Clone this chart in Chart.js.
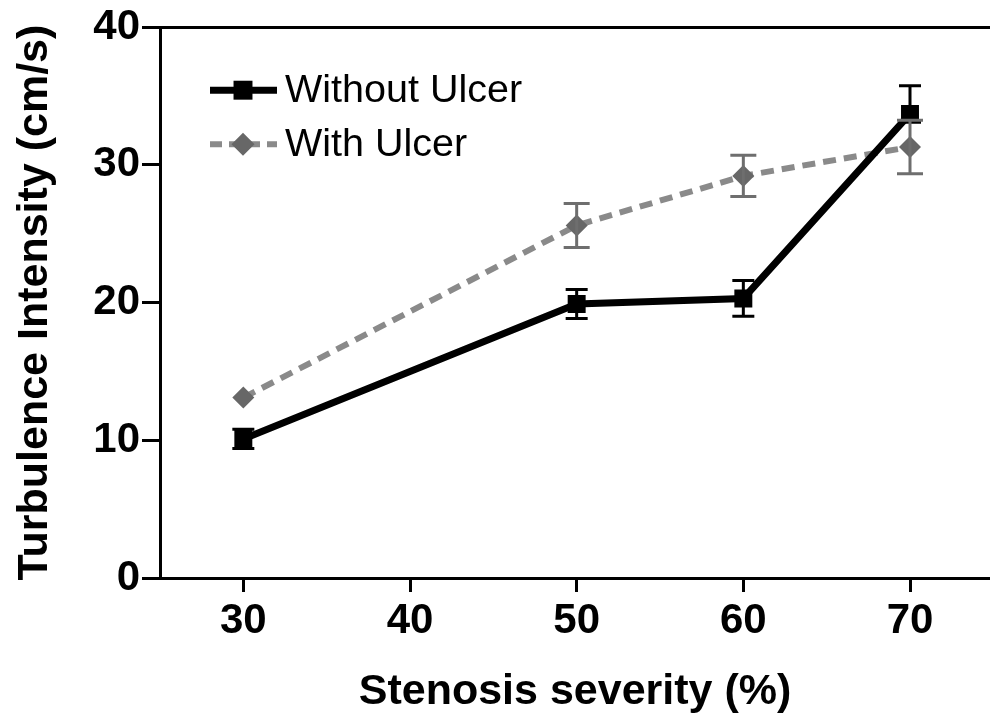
<!DOCTYPE html>
<html>
<head>
<meta charset="utf-8">
<title>Turbulence intensity vs stenosis severity</title>
<script src="https://cdn.jsdelivr.net/npm/chart.js@4.4.1/dist/chart.umd.min.js"></script>
<style>
    html, body { margin: 0; padding: 0; background: #fff; overflow: hidden; }
    #wrap { width: 990px; height: 723px; }
</style>
</head>
<body>
<div id="wrap"><canvas id="turbChart" width="990" height="723"></canvas></div>
<script>
// values
var severity = [30, 50, 60, 70];
var withoutUlcer = [10.1, 19.9, 20.3, 33.7];
var withoutUlcerErrUp = [0.7, 1.05, 1.3, 2.05];
var withoutUlcerErrDown = [0.7, 1.05, 1.3, 0.6];
var withUlcer = [13.1, 25.6, 29.2, 31.3];
var withUlcerErr = [0, 1.6, 1.5, 1.95];
var xTicks = [30, 40, 50, 60, 70];
var yTicks = [0, 10, 20, 30, 40];

var FONT = '"Liberation Sans", Arial, Helvetica, sans-serif';

function toPoints(xs, ys) {
    return xs.map(function (x, i) { return { x: x, y: ys[i] }; });
}

// error bars, drawn with the y scale after the lines and markers
var errorBars = {
    id: 'errorBars',
    afterDatasetsDraw: function (chart) {
        var ctx = chart.ctx;
        var yScale = chart.scales.y;
        chart.data.datasets.forEach(function (ds, i) {
            var meta = chart.getDatasetMeta(i);
            ctx.save();
            ctx.strokeStyle = ds.errorColor;
            ctx.lineWidth = 3;
            ctx.setLineDash([]);
            meta.data.forEach(function (pt, j) {
                var up = ds.errUp[j], down = ds.errDown[j];
                if (!up && !down) return;
                var v = ds.data[j].y;
                var top = yScale.getPixelForValue(v + up);
                var bottom = yScale.getPixelForValue(v - down);
                var half = ds.capWidth / 2;
                ctx.beginPath();
                ctx.moveTo(pt.x, top); ctx.lineTo(pt.x, bottom);
                ctx.moveTo(pt.x - half, top); ctx.lineTo(pt.x + half, top);
                ctx.moveTo(pt.x - half, bottom); ctx.lineTo(pt.x + half, bottom);
                ctx.stroke();
            });
            ctx.restore();
        });
    }
};

// legend with line + marker samples, inside the plot at top left
var lineLegend = {
    id: 'lineLegend',
    afterDraw: function (chart) {
        var ctx = chart.ctx;
        var left = chart.chartArea.left;
        var top = chart.chartArea.top;
        chart.data.datasets.forEach(function (ds, i) {
            var y = top + 63 + i * 54;
            ctx.save();
            ctx.strokeStyle = ds.borderColor;
            ctx.lineWidth = ds.borderWidth;
            ctx.setLineDash(ds.legendDash || []);
            ctx.beginPath();
            ctx.moveTo(left + 50, y);
            ctx.lineTo(left + 117, y);
            ctx.stroke();
            ctx.setLineDash([]);
            ctx.fillStyle = ds.pointBackgroundColor;
            Chart.helpers.drawPoint(ctx, {
                pointStyle: ds.pointStyle,
                radius: ds.legendRadius,
                rotation: 0,
                borderWidth: 0
            }, left + 83, y);
            ctx.fillStyle = '#000';
            ctx.font = '39.5px ' + FONT;
            ctx.textAlign = 'left';
            ctx.textBaseline = 'middle';
            ctx.fillText(ds.label, left + 125, y + 1);
            ctx.restore();
        });
    }
};

var ctx = document.getElementById('turbChart').getContext('2d');
var turbChart = new Chart(ctx, {
    type: 'line',
    data: {
        datasets: [{
            label: 'Without Ulcer',
            data: toPoints(severity, withoutUlcer),
            errUp: withoutUlcerErrUp,
            errDown: withoutUlcerErrDown,
            errorColor: '#000000',
            capWidth: 22,
            borderColor: '#000000',
            borderWidth: 7,
            pointStyle: 'rect',
            pointRadius: 12.7,
            pointBackgroundColor: '#000000',
            pointBorderWidth: 0,
            legendRadius: 13.4
        }, {
            label: 'With Ulcer',
            data: toPoints(severity, withUlcer),
            errUp: withUlcerErr,
            errDown: withUlcerErr,
            errorColor: '#6e6e6e',
            capWidth: 26,
            borderColor: '#8a8a8a',
            borderWidth: 6,
            borderDash: [13, 8],
            legendDash: [12, 7],
            pointStyle: 'rectRot',
            pointRadius: 11,
            pointBackgroundColor: '#676767',
            pointBorderWidth: 0,
            legendRadius: 11.5
        }]
    },
    options: {
        responsive: false,
        animation: false,
        layout: { autoPadding: false, padding: { top: 24, right: 0, bottom: 0, left: 0 } },
        plugins: {
            legend: { display: false },
            tooltip: { enabled: false }
        },
        scales: {
            x: {
                type: 'linear',
                position: 'bottom',
                min: 25,
                max: 74.8,
                afterBuildTicks: function (scale) {
                    scale.ticks = xTicks.map(function (v) { return { value: v }; });
                },
                afterFit: function (scale) {
                    scale.height = 145;
                    scale.paddingLeft = 0;
                    scale.paddingRight = 0;
                },
                border: { display: true, color: '#000', width: 3 },
                grid: {
                    drawOnChartArea: false,
                    drawTicks: true,
                    tickLength: 14,
                    tickWidth: 3,
                    tickColor: '#000',
                    color: '#000'
                },
                ticks: {
                    color: '#000',
                    padding: 4,
                    maxRotation: 0,
                    font: { family: FONT, size: 42, weight: 'bold' }
                },
                title: {
                    display: true,
                    text: 'Stenosis severity (%)',
                    color: '#000',
                    padding: { top: 0, bottom: 5 },
                    font: { family: FONT, size: 43, weight: 'bold' }
                }
            },
            xTop: {
                type: 'linear',
                position: 'top',
                min: 25,
                max: 74.8,
                afterFit: function (scale) {
                    scale.height = 0;
                    scale.paddingLeft = 0;
                    scale.paddingRight = 0;
                },
                border: { display: true, color: '#000', width: 3 },
                grid: { display: false, drawTicks: false },
                ticks: { display: false }
            },
            y: {
                min: 0,
                max: 40,
                afterBuildTicks: function (scale) {
                    scale.ticks = yTicks.map(function (v) { return { value: v }; });
                },
                afterFit: function (scale) { scale.width = 160; },
                border: { display: true, color: '#000', width: 3 },
                grid: {
                    drawOnChartArea: false,
                    drawTicks: true,
                    tickLength: 18,
                    tickWidth: 3,
                    tickColor: '#000',
                    color: '#000'
                },
                ticks: {
                    color: '#000',
                    padding: 2,
                    font: { family: FONT, size: 42, weight: 'bold' }
                },
                title: {
                    display: true,
                    text: 'Turbulence Intensity (cm/s)',
                    color: '#000',
                    padding: { top: 9, bottom: 0 },
                    font: { family: FONT, size: 43, weight: 'bold' }
                }
            }
        }
    },
    plugins: [errorBars, lineLegend]
});
</script>
</body>
</html>
